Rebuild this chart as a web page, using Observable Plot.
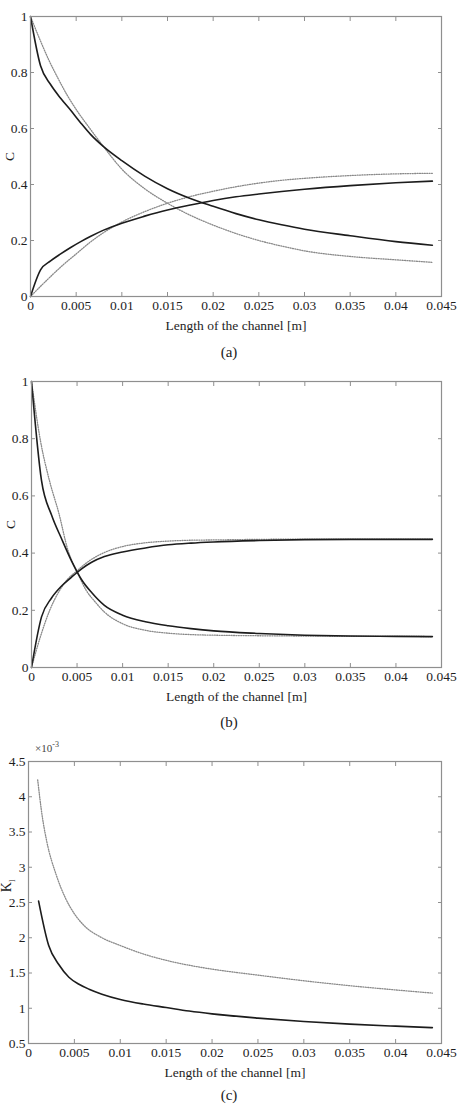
<!DOCTYPE html>
<html><head><meta charset="utf-8">
<script src="https://cdn.jsdelivr.net/npm/d3@7"></script>
<script src="https://cdn.jsdelivr.net/npm/@observablehq/plot@0.6"></script>
<style>
body{margin:0;background:#fff;}
#root{position:relative;width:458px;height:1108px;font-family:"Liberation Serif","Times New Roman",Times,serif;color:#222;overflow:hidden;}
.panel{position:absolute;left:0;}
.cap{position:absolute;left:0;width:458px;text-align:center;font-size:15px;line-height:16px;}
.ylab{position:absolute;font-size:14px;transform:rotate(-90deg);transform-origin:center;white-space:nowrap;}
.exp{position:absolute;font-size:11px;color:#444;}
</style></head><body><div id="root"></div>
<script>
// ---------- tick values ----------
const xTicks = [0, 0.005, 0.01, 0.015, 0.02, 0.025, 0.03, 0.035, 0.04, 0.045];
const cTicks = [0, 0.2, 0.4, 0.6, 0.8, 1];
const kTicks = [0.5, 1, 1.5, 2, 2.5, 3, 3.5, 4, 4.5];
const xLabel = "Length of the channel [m]";

// ---------- panel (a) ----------
const aSolidX   = [0, 0.0011, 0.0022, 0.0033, 0.0044, 0.0055, 0.0066, 0.008, 0.01, 0.0125, 0.015, 0.0175, 0.02, 0.0225, 0.025, 0.0275, 0.03, 0.035, 0.04, 0.044];
const aSolidDec = [1.0, 0.824, 0.757, 0.708, 0.665, 0.62, 0.578, 0.535, 0.485, 0.43, 0.385, 0.35, 0.322, 0.296, 0.274, 0.256, 0.24, 0.217, 0.196, 0.183];
const aSolidInc = [0, 0.095, 0.127, 0.152, 0.175, 0.196, 0.215, 0.237, 0.262, 0.287, 0.309, 0.327, 0.343, 0.356, 0.366, 0.375, 0.383, 0.396, 0.406, 0.412];
const aDotX     = [0, 0.001, 0.002, 0.003, 0.004, 0.005, 0.0065, 0.008, 0.01, 0.0125, 0.015, 0.0175, 0.02, 0.0225, 0.025, 0.0275, 0.03, 0.035, 0.04, 0.044];
const aDotDec   = [1.0, 0.92, 0.845, 0.78, 0.72, 0.668, 0.6, 0.535, 0.455, 0.385, 0.333, 0.29, 0.255, 0.225, 0.2, 0.18, 0.163, 0.143, 0.131, 0.122];
const aDotInc   = [0, 0.033, 0.065, 0.096, 0.125, 0.152, 0.193, 0.228, 0.266, 0.303, 0.333, 0.357, 0.376, 0.392, 0.405, 0.415, 0.422, 0.432, 0.438, 0.44];

// ---------- panel (b) ----------
const bSolidX   = [0, 0.0011, 0.0022, 0.0033, 0.0044, 0.0055, 0.0066, 0.008, 0.01, 0.0125, 0.015, 0.0175, 0.02, 0.025, 0.03, 0.035, 0.04, 0.044];
const bSolidDec = [1.0, 0.653, 0.533, 0.45, 0.372, 0.307, 0.262, 0.217, 0.183, 0.16, 0.146, 0.136, 0.128, 0.119, 0.113, 0.11, 0.109, 0.108];
const bSolidInc = [0, 0.177, 0.243, 0.285, 0.316, 0.345, 0.368, 0.388, 0.404, 0.418, 0.429, 0.435, 0.439, 0.444, 0.447, 0.448, 0.448, 0.448];
const bDotX     = [0, 0.001, 0.002, 0.003, 0.004, 0.005, 0.006, 0.007, 0.008, 0.01, 0.0125, 0.015, 0.0175, 0.02, 0.025, 0.03, 0.035, 0.04, 0.044];
const bDotDec   = [1.0, 0.79, 0.65, 0.54, 0.41, 0.335, 0.27, 0.229, 0.194, 0.153, 0.13, 0.12, 0.115, 0.113, 0.111, 0.11, 0.109, 0.109, 0.108];
const bDotInc   = [0, 0.11, 0.2, 0.265, 0.31, 0.338, 0.365, 0.386, 0.402, 0.423, 0.436, 0.442, 0.445, 0.446, 0.448, 0.449, 0.449, 0.449, 0.449];

// ---------- panel (c) (values x 1e-3) ----------
const cSolidX = [0.0011, 0.0022, 0.0033, 0.0044, 0.0055, 0.0066, 0.008, 0.01, 0.0125, 0.015, 0.0175, 0.02, 0.025, 0.03, 0.035, 0.04, 0.044];
const cSolidK = [2.52, 1.89, 1.62, 1.44, 1.34, 1.27, 1.2, 1.125, 1.06, 1.01, 0.96, 0.92, 0.86, 0.812, 0.775, 0.746, 0.725];
const cDotX   = [0.001, 0.0015, 0.002, 0.003, 0.004, 0.005, 0.006, 0.008, 0.01, 0.0125, 0.015, 0.0175, 0.02, 0.025, 0.03, 0.035, 0.04, 0.044];
const cDotK   = [4.24, 3.72, 3.36, 2.9, 2.57, 2.34, 2.18, 2.0, 1.89, 1.77, 1.68, 1.61, 1.555, 1.47, 1.39, 1.32, 1.26, 1.215];

const zip = (xs, ys) => xs.map((x, i) => ({x, y: ys[i]}));
const fmt = d3.format("~g");
const frameColor = "#8f8f8f";
const textColor = "#1e1e1e";
const solidStyle = {stroke: "#1c1c1c", strokeWidth: 1.6, curve: "monotone-x"};
const dotStyle = {stroke: "#8a8a8a", strokeWidth: 1.3, strokeDasharray: "1,1.4", curve: "monotone-x"};

function panel({height, marginLeft, yDomain, yTicks, yLabel, solids, dots}) {
  return Plot.plot({
    width: 458, height,
    marginTop: 16, marginBottom: 44, marginLeft, marginRight: 17,
    style: "font-family: 'Liberation Serif', 'Times New Roman', Times, serif; font-size: 13.5px; background: white;",
    x: {domain: [0, 0.045]},
    y: {domain: yDomain},
    marks: [
      Plot.axisX({anchor: "bottom", ticks: xTicks, tickFormat: fmt, tickSize: -4, tickPadding: 8,
        label: xLabel, labelAnchor: "center", labelOffset: 33, labelArrow: "none", stroke: frameColor, fill: textColor}),
      Plot.axisX({anchor: "top", ticks: xTicks, tickFormat: () => "", tickSize: -4, label: null, stroke: frameColor}),
      Plot.axisY({anchor: "left", ticks: yTicks, tickFormat: fmt, tickSize: -4, tickPadding: 7,
        label: yLabel, labelAnchor: "center", labelOffset: 26, labelArrow: "none", stroke: frameColor, fill: textColor}),
      Plot.axisY({anchor: "right", ticks: yTicks, tickFormat: () => "", tickSize: -4, label: null, stroke: frameColor}),
      ...dots.map(d => Plot.line(d, {x: "x", y: "y", ...dotStyle})),
      ...solids.map(d => Plot.line(d, {x: "x", y: "y", ...solidStyle})),
      Plot.frame({stroke: frameColor, strokeWidth: 1.2})
    ]
  });
}

const root = document.getElementById("root");
function place(el, top) { el.classList.add("panel"); el.style.top = top + "px"; root.appendChild(el); }
function cap(text, top) { const d = document.createElement("div"); d.className = "cap"; d.style.top = top + "px"; d.textContent = text; root.appendChild(d); }

place(panel({height: 340, marginLeft: 30, yDomain: [0, 1], yTicks: cTicks, yLabel: "C",
  solids: [zip(aSolidX, aSolidDec), zip(aSolidX, aSolidInc)],
  dots: [zip(aDotX, aDotDec), zip(aDotX, aDotInc)]}), 0);
cap("(a)", 344);

place(panel({height: 346, marginLeft: 31, yDomain: [0, 1], yTicks: cTicks, yLabel: "C",
  solids: [zip(bSolidX, bSolidDec), zip(bSolidX, bSolidInc)],
  dots: [zip(bDotX, bDotDec), zip(bDotX, bDotInc)]}), 365);
cap("(b)", 714);

place(panel({height: 342, marginLeft: 28, yDomain: [0.5, 4.5], yTicks: kTicks, yLabel: null,
  solids: [zip(cSolidX, cSolidK)],
  dots: [zip(cDotX, cDotK)]}), 745);
cap("(c)", 1087);

const yl = document.createElement("div");
yl.className = "ylab"; yl.innerHTML = "K<sub style='font-size:9px'>l</sub>";
yl.style.left = "2px"; yl.style.top = "877px";
root.appendChild(yl);

const ex = document.createElement("div");
ex.className = "exp"; ex.innerHTML = "×10<sup style='font-size:8px'>-3</sup>";
ex.style.left = "35px"; ex.style.top = "740px";
root.appendChild(ex);
</script></body></html>
